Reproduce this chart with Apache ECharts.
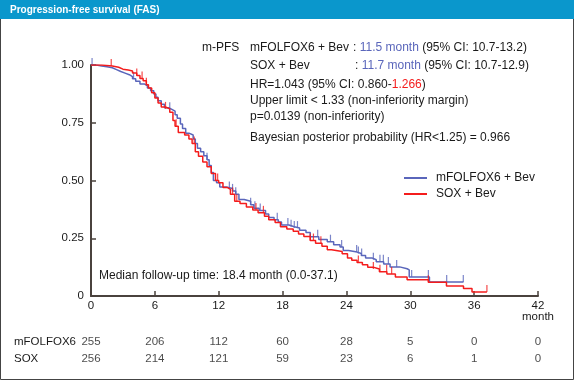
<!DOCTYPE html>
<html><head><meta charset="utf-8">
<script src="https://cdn.jsdelivr.net/npm/echarts@6/dist/echarts.min.js"></script>
<style>html,body{margin:0;padding:0;background:#fff}#c{width:574px;height:380px}</style>
</head><body><div id="c"></div>
<script>
// ---- data ----
const xTicks = [0, 6, 12, 18, 24, 30, 36, 42];
const yTicks = [0, 0.25, 0.5, 0.75, 1.0];

const folfoxT = [0,0.5,1.0,1.5,2.0,2.4,2.8,3.2,3.6,3.9,4.2,4.6,5.0,5.3,5.6,5.9,6.1,6.3,6.6,6.9,7.3,7.6,7.9,8.1,8.4,8.6,8.9,9.2,9.6,9.8,10.0,10.3,10.6,10.9,11.1,11.3,11.5,11.8,12.1,12.7,13.3,13.6,13.9,14.4,15.0,15.3,15.8,16.4,16.7,17.2,17.6,17.9,18.6,19.1,19.6,20.2,20.6,21.4,22.2,22.8,23.4,23.7,24.2,25.0,25.4,25.8,26.4,26.8,27.5,28.1,29.0,29.7,29.9,31.8,35.0];
const folfoxS = [1.0,0.996,0.992,0.988,0.98,0.972,0.965,0.958,0.95,0.94,0.93,0.918,0.91,0.9,0.888,0.875,0.86,0.845,0.83,0.815,0.808,0.8,0.785,0.77,0.745,0.725,0.705,0.697,0.68,0.66,0.64,0.625,0.607,0.59,0.565,0.535,0.5,0.49,0.472,0.465,0.455,0.44,0.418,0.41,0.395,0.38,0.37,0.355,0.34,0.33,0.32,0.307,0.3,0.294,0.285,0.275,0.256,0.245,0.235,0.222,0.212,0.197,0.19,0.184,0.175,0.165,0.157,0.148,0.138,0.126,0.118,0.113,0.082,0.061,0.061];
const folfoxCensor = [0.1,4.0,7.4,10.9,13.0,13.3,13.6,15.0,15.4,15.9,17.5,18.5,18.8,19.1,19.4,21.3,22.5,23.55,24.96,25.12,25.43,26.53,27.15,27.47,27.94,28.72,30.13,31.7,33.42,34.98];

const soxT = [0,1.0,2.0,2.6,3.0,3.5,3.9,4.3,4.6,4.9,5.2,5.4,5.7,6.0,6.3,6.6,7.0,7.4,7.7,7.9,8.2,8.8,9.2,9.5,9.8,10.1,10.5,10.9,11.3,11.7,12.0,12.4,12.8,13.1,13.5,14.0,14.6,15.2,15.7,16.3,16.7,17.3,17.8,18.4,19.0,19.5,20.0,20.6,21.1,21.7,22.2,22.6,23.6,24.1,24.5,25.0,25.5,26.0,26.5,27.1,27.8,28.6,29.7,31.7,33.4,35.0,35.8,37.2];
const soxS = [1.0,0.996,0.99,0.982,0.978,0.974,0.965,0.955,0.942,0.932,0.915,0.9,0.88,0.857,0.835,0.818,0.81,0.795,0.76,0.735,0.708,0.697,0.68,0.66,0.625,0.605,0.58,0.56,0.53,0.5,0.49,0.47,0.462,0.44,0.41,0.4,0.385,0.372,0.36,0.345,0.33,0.318,0.3,0.29,0.28,0.268,0.258,0.24,0.228,0.215,0.2,0.193,0.183,0.165,0.155,0.145,0.135,0.125,0.117,0.105,0.095,0.082,0.07,0.06,0.043,0.033,0.017,0.017];
const soxCensor = [1.9,4.3,4.8,5.2,7.0,8.0,9.7,11.9,13.3,13.7,15.5,16.2,20.6,20.9,21.6,25.12,26.53,27.15,27.78,28.25,31.7,37.2];

const riskLabels = ['mFOLFOX6', 'SOX'];
const riskFolfox = [255, 206, 112, 60, 28, 5, 0, 0];
const riskSox = [256, 214, 121, 59, 23, 6, 1, 0];

// ---- build ----
const BLUE = '#5a66bb', RED = '#f41c1c', INK = '#1a1a1a', AXIS = '#4a423d';
const FONT = 'Liberation Sans, Arial, sans-serif';
const zip = (a, b) => a.map((v, i) => [v, b[i]]);
function survAt(T, S, t) { let s = S[0]; for (let i = 0; i < T.length; i++) { if (T[i] <= t) s = S[i]; } return s; }
const censorPts = (C, T, S) => C.map(t => [t, survAt(T, S, t)]);

const chart = echarts.init(document.getElementById('c'), null, {renderer: 'canvas'});
const RICH = {b: {fill: BLUE, font: '12px ' + FONT}, r: {fill: RED, font: '12px ' + FONT}};
const txt = (x, y, text, fill, extra) => ({type: 'text', silent: true, style: Object.assign({x, y, text, fill: fill || INK, font: '12px ' + FONT, verticalAlign: 'middle', rich: RICH}, extra || {})});

chart.setOption({
  animation: false,
  backgroundColor: '#fff',
  grid: [
    {left: 91, right: 36, top: 65, bottom: 84},
    {left: 91, right: 36, top: 333.5, height: 34}
  ],
  xAxis: [
    {type: 'value', gridIndex: 0, min: 0, max: 42, interval: 6,
     axisLine: {lineStyle: {color: AXIS, width: 2}},
     axisTick: {inside: true, length: 5, lineStyle: {color: AXIS, width: 1.5}},
     splitLine: {show: false},
     axisLabel: {color: INK, fontSize: 11.5, fontFamily: FONT, margin: 4, lineHeight: 11,
       formatter: v => v === 42 ? '42\nmonth' : String(v)}},
    {type: 'value', gridIndex: 1, min: 0, max: 42, show: false}
  ],
  yAxis: [
    {type: 'value', gridIndex: 0, min: 0, max: 1, interval: 0.25,
     axisLine: {show: true, lineStyle: {color: AXIS, width: 2}},
     axisTick: {show: true, inside: true, length: 5, lineStyle: {color: AXIS, width: 1.5}},
     splitLine: {show: false},
     axisLabel: {color: INK, fontSize: 11.5, fontFamily: FONT, margin: 7,
       formatter: v => v === 0 ? '0' : v.toFixed(2)}},
    {type: 'category', gridIndex: 1, data: riskLabels, inverse: true,
     axisLine: {show: false}, axisTick: {show: false},
     axisLabel: {color: INK, fontSize: 11.5, fontFamily: FONT, align: 'left', margin: 77}}
  ],
  legend: {
    orient: 'vertical', left: 399, top: 167, itemWidth: 23, itemHeight: 2, itemGap: 4,
    icon: 'rect', selectedMode: false,
    textStyle: {color: INK, fontSize: 12, fontFamily: FONT, padding: [0, 0, 0, 4]},
    data: ['mFOLFOX6 + Bev', 'SOX + Bev']
  },
  series: [
    {name: 'mFOLFOX6 + Bev', type: 'line', step: 'end', symbol: 'none', data: zip(folfoxT, folfoxS),
     lineStyle: {color: BLUE, width: 1.5}, itemStyle: {color: BLUE}, z: 3},
    {name: 'SOX + Bev', type: 'line', step: 'end', symbol: 'none', data: zip(soxT, soxS),
     lineStyle: {color: RED, width: 1.5}, itemStyle: {color: RED}, z: 4},
    {type: 'scatter', data: censorPts(folfoxCensor, folfoxT, folfoxS), symbol: 'rect',
     symbolSize: [1.2, 7], symbolOffset: [0, -3.5], itemStyle: {color: BLUE}, silent: true, z: 3},
    {type: 'scatter', data: censorPts(soxCensor, soxT, soxS), symbol: 'rect',
     symbolSize: [1.2, 7], symbolOffset: [0, -3.5], itemStyle: {color: RED}, silent: true, z: 4},
    {type: 'scatter', xAxisIndex: 1, yAxisIndex: 1, symbolSize: 0, silent: true,
     data: xTicks.map((t, i) => [t, riskLabels[0], riskFolfox[i]]),
     label: {show: true, position: 'inside', formatter: p => String(p.value[2]), color: INK, fontSize: 11.5, fontFamily: FONT}},
    {type: 'scatter', xAxisIndex: 1, yAxisIndex: 1, symbolSize: 0, silent: true,
     data: xTicks.map((t, i) => [t, riskLabels[1], riskSox[i]]),
     label: {show: true, position: 'inside', formatter: p => String(p.value[2]), color: INK, fontSize: 11.5, fontFamily: FONT}}
  ],
  graphic: [
    {type: 'rect', silent: true, shape: {x: 0.5, y: 0.5, width: 573, height: 379}, style: {fill: 'none', stroke: '#444', lineWidth: 1}},
    {type: 'rect', silent: true, shape: {x: 0, y: 0, width: 574, height: 19}, style: {fill: '#0a97cc'}},
    txt(10, 10, 'Progression-free survival (FAS)', '#fff', {font: 'bold 10px ' + FONT}),
    txt(202, 48, 'm-PFS'),
    txt(250, 48, 'mFOLFOX6 + Bev'),
    txt(353, 48, ': {b|11.5 month} (95% CI: 10.7-13.2)'),
    txt(250, 66, 'SOX + Bev'),
    txt(355, 66, ': {b|11.7 month} (95% CI: 10.7-12.9)'),
    txt(250, 85, 'HR=1.043 (95% CI: 0.860-{r|1.266})'),
    txt(250, 101, 'Upper limit < 1.33 (non-inferiority margin)'),
    txt(250, 117, 'p=0.0139 (non-inferiority)'),
    txt(250, 138, 'Bayesian posterior probability (HR<1.25) = 0.966'),
    txt(99, 276, 'Median follow-up time: 18.4 month (0.0-37.1)')
  ]
});
</script></body></html>
